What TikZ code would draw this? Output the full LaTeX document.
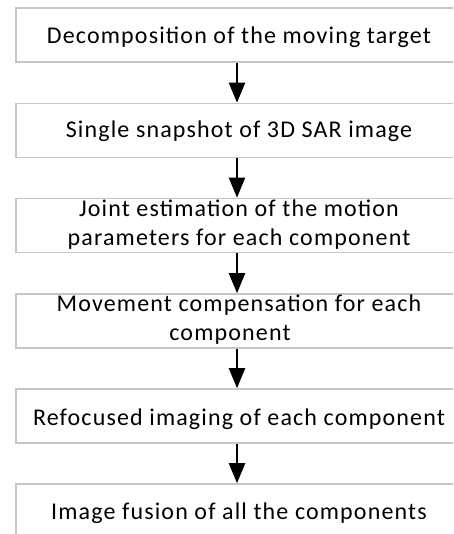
\documentclass[tikz,border=0pt]{standalone}
\usepackage{fontspec}
\setmainfont{Carlito}[LetterSpace=4.8]
\usetikzlibrary{arrows.meta}
\tikzset{
  stagebox/.style={draw=gray!45, line width=1.6pt, fill=white, rectangle,
    minimum width=442pt, minimum height=54pt, inner sep=0pt},
  stagetext/.style={anchor=base, align=center, inner sep=0pt,
    font=\fontsize{24}{28.5}\selectfont},
  flow/.style={line width=2.2pt, -{Triangle[width=16pt,length=20pt]}}
}
\begin{document}
\begin{tikzpicture}[x=1pt,y=-1pt]
\useasboundingbox (0,0) rectangle (453,534);
\clip (0,0) rectangle (453,534);
\fill[white] (0,0) rectangle (453,534);
% stage boxes (left edge at 16, right edge runs past the frame)
\node[stagebox] (b1) at (237,35) {};
\node[stagebox] (b2) at (237,130.5) {};
\node[stagebox] (b3) at (237,225.5) {};
\node[stagebox] (b4) at (237,321) {};
\node[stagebox] (b5) at (237,416) {};
\node[stagebox] (b6) at (237,511) {};
% stage labels (two-line labels sit on the baseline of their last line)
\node[stagetext] (t1) at (239,44) {Decomposition of the moving target};
\node[stagetext] (t2) at (239,138) {Single snapshot of 3D SAR image};
\node[stagetext] (t3) at (239,245) {Joint estimation of the motion\\parameters for each component};
\node[stagetext] (t4) at (239,340) {Movement compensation for each\\component\hspace*{18pt}};
\node[stagetext] (t5) at (239,425) {Refocused imaging of each component};
\node[stagetext] (t6) at (239,519) {Image fusion of all the components};
% flow arrows
\draw[flow] (b1.south) -- (b2.north);
\draw[flow] (b2.south) -- (b3.north);
\draw[flow] (b3.south) -- (b4.north);
\draw[flow] (b4.south) -- (b5.north);
\draw[flow] (b5.south) -- (b6.north);
\end{tikzpicture}
\end{document}
